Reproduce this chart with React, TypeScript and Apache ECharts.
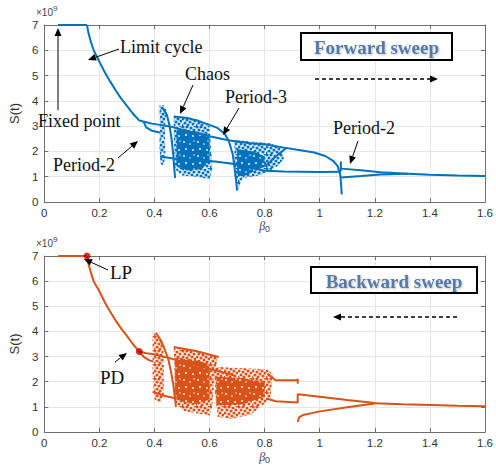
import React, { useEffect, useRef } from "react";
import * as echarts from "echarts";

// ---------- axis settings ----------
const X_MIN = 0, X_MAX = 1.6, X_STEP = 0.2;
const Y_MIN = 0, Y_MAX = 7, Y_STEP = 1;

// ---------- forward sweep (blue) ----------
const fwdFixed = [[0.05, 7], [0.155, 7]];
const fwdLimit = [[0.155, 7], [0.16, 6.7], [0.17, 6.3], [0.18, 5.98], [0.2, 5.55], [0.22, 5.12], [0.24, 4.75], [0.26, 4.4], [0.28, 4.08], [0.3, 3.8], [0.32, 3.52], [0.345, 3.22], [0.36, 3.18]];
const fwdP2Upper = [[0.36, 3.18], [0.39, 3.1], [0.42, 3.05], [0.46, 2.98], [0.5, 2.86], [0.55, 2.72], [0.6, 2.6], [0.65, 2.48], [0.7, 2.38], [0.75, 2.32], [0.8, 2.28], [0.87, 2.15], [0.93, 2.05], [0.98, 1.96], [1.02, 1.82], [1.05, 1.62], [1.065, 1.42], [1.075, 1.05], [1.08, 0.3]];
const fwdP2Lower = [[0.36, 3.18], [0.37, 2.95], [0.39, 2.82], [0.42, 2.75]];
const fwdChaosTop = [[0.47, 3.38], [0.52, 3.32], [0.56, 3.2], [0.6, 3.05], [0.63, 2.92], [0.655, 2.7], [0.67, 2.4], [0.684, 1.9], [0.695, 1.0], [0.7, 0.45]];
const fwdStripCurve = [[0.43, 3.7], [0.445, 3.45], [0.455, 3.0], [0.462, 2.5], [0.468, 1.9], [0.472, 1.3], [0.475, 0.95]];
const fwdLow = [[0.42, 1.8], [0.47, 1.72], [0.55, 1.65], [0.62, 1.6], [0.69, 1.5], [0.75, 1.35], [0.8, 1.24], [0.87, 1.21], [1.0, 1.19], [1.076, 1.2]];
const fwdDiag = [[0.8, 1.4], [0.84, 1.8], [0.88, 2.15]];
const fwdSpike = [[1.076, 1.2], [1.077, 1.6]];
const fwdP2bUpper = [[1.078, 1.32], [1.15, 1.26], [1.22, 1.18], [1.32, 1.12]];
const fwdP2bLower = [[1.078, 0.97], [1.15, 1.03], [1.22, 1.09], [1.32, 1.12]];
const fwdTail = [[1.32, 1.12], [1.4, 1.08], [1.5, 1.05], [1.6, 1.03]];

const fwdSparse = [
  [[0.418, 3.82], [0.432, 3.85], [0.445, 3.6], [0.44, 3.3], [0.438, 2.5], [0.44, 1.8], [0.432, 1.45], [0.422, 1.5], [0.418, 2.2], [0.42, 3.0]],
  [[0.47, 3.38], [0.56, 3.25], [0.6, 3.05], [0.61, 1.3], [0.6, 0.9], [0.55, 1.0], [0.5, 1.05], [0.475, 1.3], [0.47, 2.5]],
  [[0.69, 2.45], [0.76, 2.38], [0.82, 2.32], [0.86, 2.15], [0.87, 1.7], [0.84, 1.35], [0.78, 1.05], [0.72, 0.95], [0.705, 0.5], [0.69, 1.0]],
];
const fwdDense = [
  [[0.48, 2.85], [0.55, 2.8], [0.6, 2.65], [0.6, 1.6], [0.57, 1.3], [0.52, 1.25], [0.48, 1.4]],
  [[0.7, 2.1], [0.76, 2.0], [0.8, 1.8], [0.8, 1.4], [0.76, 1.2], [0.72, 1.0], [0.7, 1.1]],
];

// ---------- backward sweep (orange) ----------
const bwdFixed = [[0.05, 7], [0.155, 7]];
const bwdLimit = [[0.155, 7], [0.16, 6.7], [0.17, 6.3], [0.18, 5.98], [0.2, 5.6], [0.22, 5.15], [0.24, 4.77], [0.26, 4.42], [0.28, 4.1], [0.3, 3.82], [0.32, 3.52], [0.345, 3.2]];
const bwdP2Upper = [[0.345, 3.2], [0.37, 3.13], [0.393, 3.1], [0.45, 2.95], [0.5, 2.8], [0.55, 2.66], [0.62, 2.45], [0.69, 2.25]];
const bwdP2Lower = [[0.345, 3.2], [0.36, 3.0], [0.38, 2.86], [0.395, 2.8]];
const bwdStripCurve = [[0.405, 3.95], [0.42, 3.7], [0.435, 3.35], [0.45, 2.9], [0.46, 2.4], [0.468, 1.9], [0.475, 1.3], [0.478, 1.0]];
const bwdLow = [[0.393, 1.6], [0.43, 1.45], [0.48, 1.33]];
const bwdTopEdge = [[0.47, 3.38], [0.55, 3.22], [0.633, 2.98]];
const bwdUpperRight = [[0.81, 2.32], [0.84, 2.06], [0.92, 2.06]];
const bwdUpperTick = [[0.92, 1.92], [0.92, 2.12]];
const bwdLowerRight = [[0.81, 1.32], [0.84, 1.22], [0.92, 1.17], [0.92, 1.5], [1.0, 1.4], [1.1, 1.27], [1.2, 1.15]];
const bwdBranch = [[0.92, 0.4], [0.925, 0.58], [0.94, 0.68], [1.0, 0.82], [1.1, 0.98], [1.2, 1.13]];
const bwdTail = [[1.2, 1.14], [1.3, 1.1], [1.4, 1.07], [1.5, 1.04], [1.6, 1.02]];
const bwdPoints = [[0.155, 7], [0.345, 3.2]];

const bwdSparse = [
  [[0.393, 3.98], [0.41, 3.9], [0.43, 3.6], [0.434, 3.0], [0.434, 1.5], [0.42, 1.13], [0.4, 1.3], [0.393, 2.2]],
  [[0.47, 3.38], [0.55, 3.25], [0.63, 3.0], [0.62, 2.4], [0.61, 1.0], [0.6, 0.66], [0.55, 0.75], [0.5, 0.86], [0.475, 1.2]],
  [[0.62, 2.6], [0.7, 2.55], [0.81, 2.5], [0.83, 2.3], [0.82, 1.3], [0.75, 0.7], [0.68, 0.53], [0.63, 0.6], [0.62, 1.5]],
];
const bwdDense = [
  [[0.475, 2.95], [0.55, 2.85], [0.6, 2.7], [0.6, 1.3], [0.55, 1.1], [0.5, 1.2], [0.475, 1.4]],
  [[0.625, 2.2], [0.72, 2.15], [0.8, 2.0], [0.8, 1.4], [0.72, 1.1], [0.625, 1.05]],
];

const BLUE = "#0072BD";
const ORANGE = "#D95319";
const RED = "#C00000";
const AXIS_C = "#6e6e6e";
const LABEL_C = "#333333";
const SERIF = "'Liberation Serif', 'Times New Roman', serif";
const SANS = "'Liberation Sans', Arial, sans-serif";

// texture tiles (decorative speckle for the chaotic bands)
const DENSE_HOLES = [[2, 2, 0.9], [8, 4, 0.8], [4, 9, 1.0], [11, 10, 0.9], [12, 1, 0.7]];
const SPARSE_DOTS = [[1, 1], [5, 1], [9, 2], [12, 4], [3, 4], [7, 5], [10, 7], [1, 7], [5, 8], [13, 9], [8, 10], [3, 11], [11, 12], [6, 13], [0, 13], [13, 0]];
const TILE = 14;

function makePattern(color: string, dense: boolean) {
  const c = document.createElement("canvas");
  c.width = TILE; c.height = TILE;
  const g = c.getContext("2d")!;
  if (dense) {
    g.fillStyle = color; g.fillRect(0, 0, TILE, TILE);
    g.fillStyle = "#ffffff";
    DENSE_HOLES.forEach(([x, y, r]) => { g.beginPath(); g.arc(x, y, r, 0, Math.PI * 2); g.fill(); });
  } else {
    g.fillStyle = color;
    SPARSE_DOTS.forEach(([x, y]) => { g.beginPath(); g.arc(x, y, 1.6, 0, Math.PI * 2); g.fill(); });
  }
  return { image: c.toDataURL(), repeat: "repeat", imageWidth: TILE, imageHeight: TILE };
}

function lineS(data: number[][], color: string, ai: number, width = 2) {
  return {
    type: "line", xAxisIndex: ai, yAxisIndex: ai, data, showSymbol: false, silent: true,
    lineStyle: { color, width }, z: 3, clip: true,
  };
}
function polyS(polys: number[][][], fill: any, ai: number) {
  return {
    type: "custom", xAxisIndex: ai, yAxisIndex: ai, silent: true, z: 2, clip: true,
    data: polys.map((p) => [p[0][0], p[0][1]]),
    renderItem: (params: any, api: any) => {
      const poly = polys[params.dataIndex];
      return {
        type: "polygon",
        shape: { points: poly.map((pt) => api.coord(pt)) },
        style: { fill },
      };
    },
  };
}

function arrow(x1: number, y1: number, x2: number, y2: number, dashed = false) {
  const ang = Math.atan2(y2 - y1, x2 - x1);
  const hl = 8, hw = 3.5;
  const bx = x2 - hl * Math.cos(ang), by = y2 - hl * Math.sin(ang);
  const px = -Math.sin(ang) * hw, py = Math.cos(ang) * hw;
  return [
    { type: "line", z: 50, shape: { x1, y1, x2: bx, y2: by }, style: { stroke: "#000", lineWidth: dashed ? 1.3 : 1, lineDash: dashed ? [4, 3] : null } },
    { type: "polygon", z: 50, shape: { points: [[x2, y2], [bx + px, by + py], [bx - px, by - py]] }, style: { fill: "#000" } },
  ];
}
function label(text: string, x: number, y: number, size = 18) {
  return { type: "text", z: 50, x, y, style: { text, font: `${size}px ${SERIF}`, fill: "#111", verticalAlign: "middle", align: "left" } };
}
function sweepBox(x: number, y: number, w: number, h: number, text: string) {
  return [
    { type: "rect", z: 49, shape: { x, y, width: w, height: h }, style: { fill: "#fff", stroke: "#000", lineWidth: 2 } },
    { type: "text", z: 50, x: x + w / 2, y: y + h / 2 + 1, style: { text, font: `bold 19px ${SERIF}`, fill: "#5479a8", align: "center", verticalAlign: "middle", textShadowColor: "rgba(0,0,0,0.25)", textShadowBlur: 2, textShadowOffsetX: 1, textShadowOffsetY: 1 } },
  ];
}
function expo(x: number, y: number) {
  return {
    type: "text", z: 50, x, y,
    style: {
      text: "{a|×10}{b|9}",
      rich: {
        a: { fontSize: 10, fontFamily: SANS, fill: "#444" },
        b: { fontSize: 8, fontFamily: SANS, fill: "#444", padding: [0, 0, 7, 0] },
      },
      verticalAlign: "middle",
    },
  };
}

function xAxes(gi: number, gap: number) {
  return [
    {
      gridIndex: gi, type: "value", min: X_MIN, max: X_MAX, interval: X_STEP, position: "bottom",
      name: "{a|β}{b|0}", nameLocation: "middle", nameGap: gap,
      nameTextStyle: { rich: { a: { fontSize: 12, fontStyle: "italic", fontFamily: SERIF, color: "#444" }, b: { fontSize: 9, fontFamily: SANS, color: "#444", padding: [6, 0, 0, 0] } } },
      axisLine: { onZero: false, lineStyle: { color: AXIS_C } },
      axisTick: { inside: true, length: 4, lineStyle: { color: AXIS_C } },
      axisLabel: { color: LABEL_C, fontSize: 11.5, fontFamily: SANS, margin: 5 },
      splitLine: { show: true, lineStyle: { color: "#e6e6e6" } },
    },
    {
      gridIndex: gi, type: "value", min: X_MIN, max: X_MAX, interval: X_STEP, position: "top",
      axisLine: { onZero: false, lineStyle: { color: AXIS_C } },
      axisTick: { inside: true, length: 4, lineStyle: { color: AXIS_C } },
      axisLabel: { show: false }, splitLine: { show: false },
    },
  ];
}
function yAxes(gi: number) {
  return [
    {
      gridIndex: gi, type: "value", min: Y_MIN, max: Y_MAX, interval: Y_STEP, position: "left",
      name: "S(t)", nameLocation: "middle", nameGap: 17, nameRotate: 90,
      nameTextStyle: { fontSize: 13, fontFamily: SANS, color: LABEL_C },
      axisLine: { onZero: false, lineStyle: { color: AXIS_C } },
      axisTick: { inside: true, length: 4, lineStyle: { color: AXIS_C } },
      axisLabel: { color: LABEL_C, fontSize: 11.5, fontFamily: SANS, margin: 6 },
      splitLine: { show: true, lineStyle: { color: "#e6e6e6" } },
    },
    {
      gridIndex: gi, type: "value", min: Y_MIN, max: Y_MAX, interval: Y_STEP, position: "right",
      axisLine: { onZero: false, lineStyle: { color: AXIS_C } },
      axisTick: { inside: true, length: 4, lineStyle: { color: AXIS_C } },
      axisLabel: { show: false }, splitLine: { show: false },
    },
  ];
}

export default function App() {
  const ref = useRef<HTMLDivElement>(null);
  useEffect(() => {
    document.body.style.margin = "0";
    const chart = echarts.init(ref.current!, null, { renderer: "svg" });
    const series: any[] = [
      polyS(fwdSparse, makePattern(BLUE, false), 0),
      polyS(fwdDense, makePattern(BLUE, true), 0),
      ...[fwdFixed, fwdLimit, fwdP2Upper, fwdP2Lower, fwdChaosTop, fwdStripCurve, fwdLow, fwdDiag, fwdSpike, fwdP2bUpper, fwdP2bLower, fwdTail].map((d) => lineS(d, BLUE, 0)),
      polyS(bwdSparse, makePattern(ORANGE, false), 2),
      polyS(bwdDense, makePattern(ORANGE, true), 2),
      ...[bwdFixed, bwdLimit, bwdP2Upper, bwdP2Lower, bwdStripCurve, bwdLow, bwdTopEdge, bwdUpperRight, bwdUpperTick, bwdLowerRight, bwdBranch, bwdTail].map((d) => lineS(d, ORANGE, 2)),
      {
        type: "scatter", xAxisIndex: 2, yAxisIndex: 2, data: bwdPoints, symbolSize: 7, silent: true, z: 10,
        itemStyle: { color: RED },
      },
    ];
    chart.setOption({
      animation: false,
      grid: [
        { left: 33, top: 25, width: 455, height: 177 },
        { left: 33, top: 256, width: 455, height: 176 },
      ],
      xAxis: [...xAxes(0, 11), ...xAxes(1, 17)],
      yAxis: [...yAxes(0), ...yAxes(1)],
      series,
      graphic: [
        expo(36, 12),
        expo(36, 243),
        label("Limit cycle", 120, 47),
        ...arrow(119, 49, 88, 60),
        label("Fixed point", 38, 121),
        ...arrow(58, 110, 58, 28),
        label("Chaos", 185, 74),
        ...arrow(193, 85, 180, 114),
        label("Period-3", 225, 97),
        ...arrow(239, 108, 223, 135),
        label("Period-2", 53, 165),
        ...arrow(118, 158, 138, 141),
        label("Period-2", 333, 128),
        ...arrow(358, 141, 350, 164),
        ...sweepBox(301, 33, 151, 27, "Forward sweep"),
        ...arrow(315, 79, 438, 79, true),
        label("LP", 110, 272, 19),
        ...arrow(108, 270, 84, 259),
        label("PD", 100, 377, 19),
        ...arrow(115, 362, 127, 353),
        ...sweepBox(311, 267, 166, 26, "Backward sweep"),
        ...arrow(457, 317, 333, 317, true),
      ],
    });
    return () => chart.dispose();
  }, []);
  return <div ref={ref} style={{ position: "absolute", left: 0, top: 0, width: 496, height: 469 }} />;
}
